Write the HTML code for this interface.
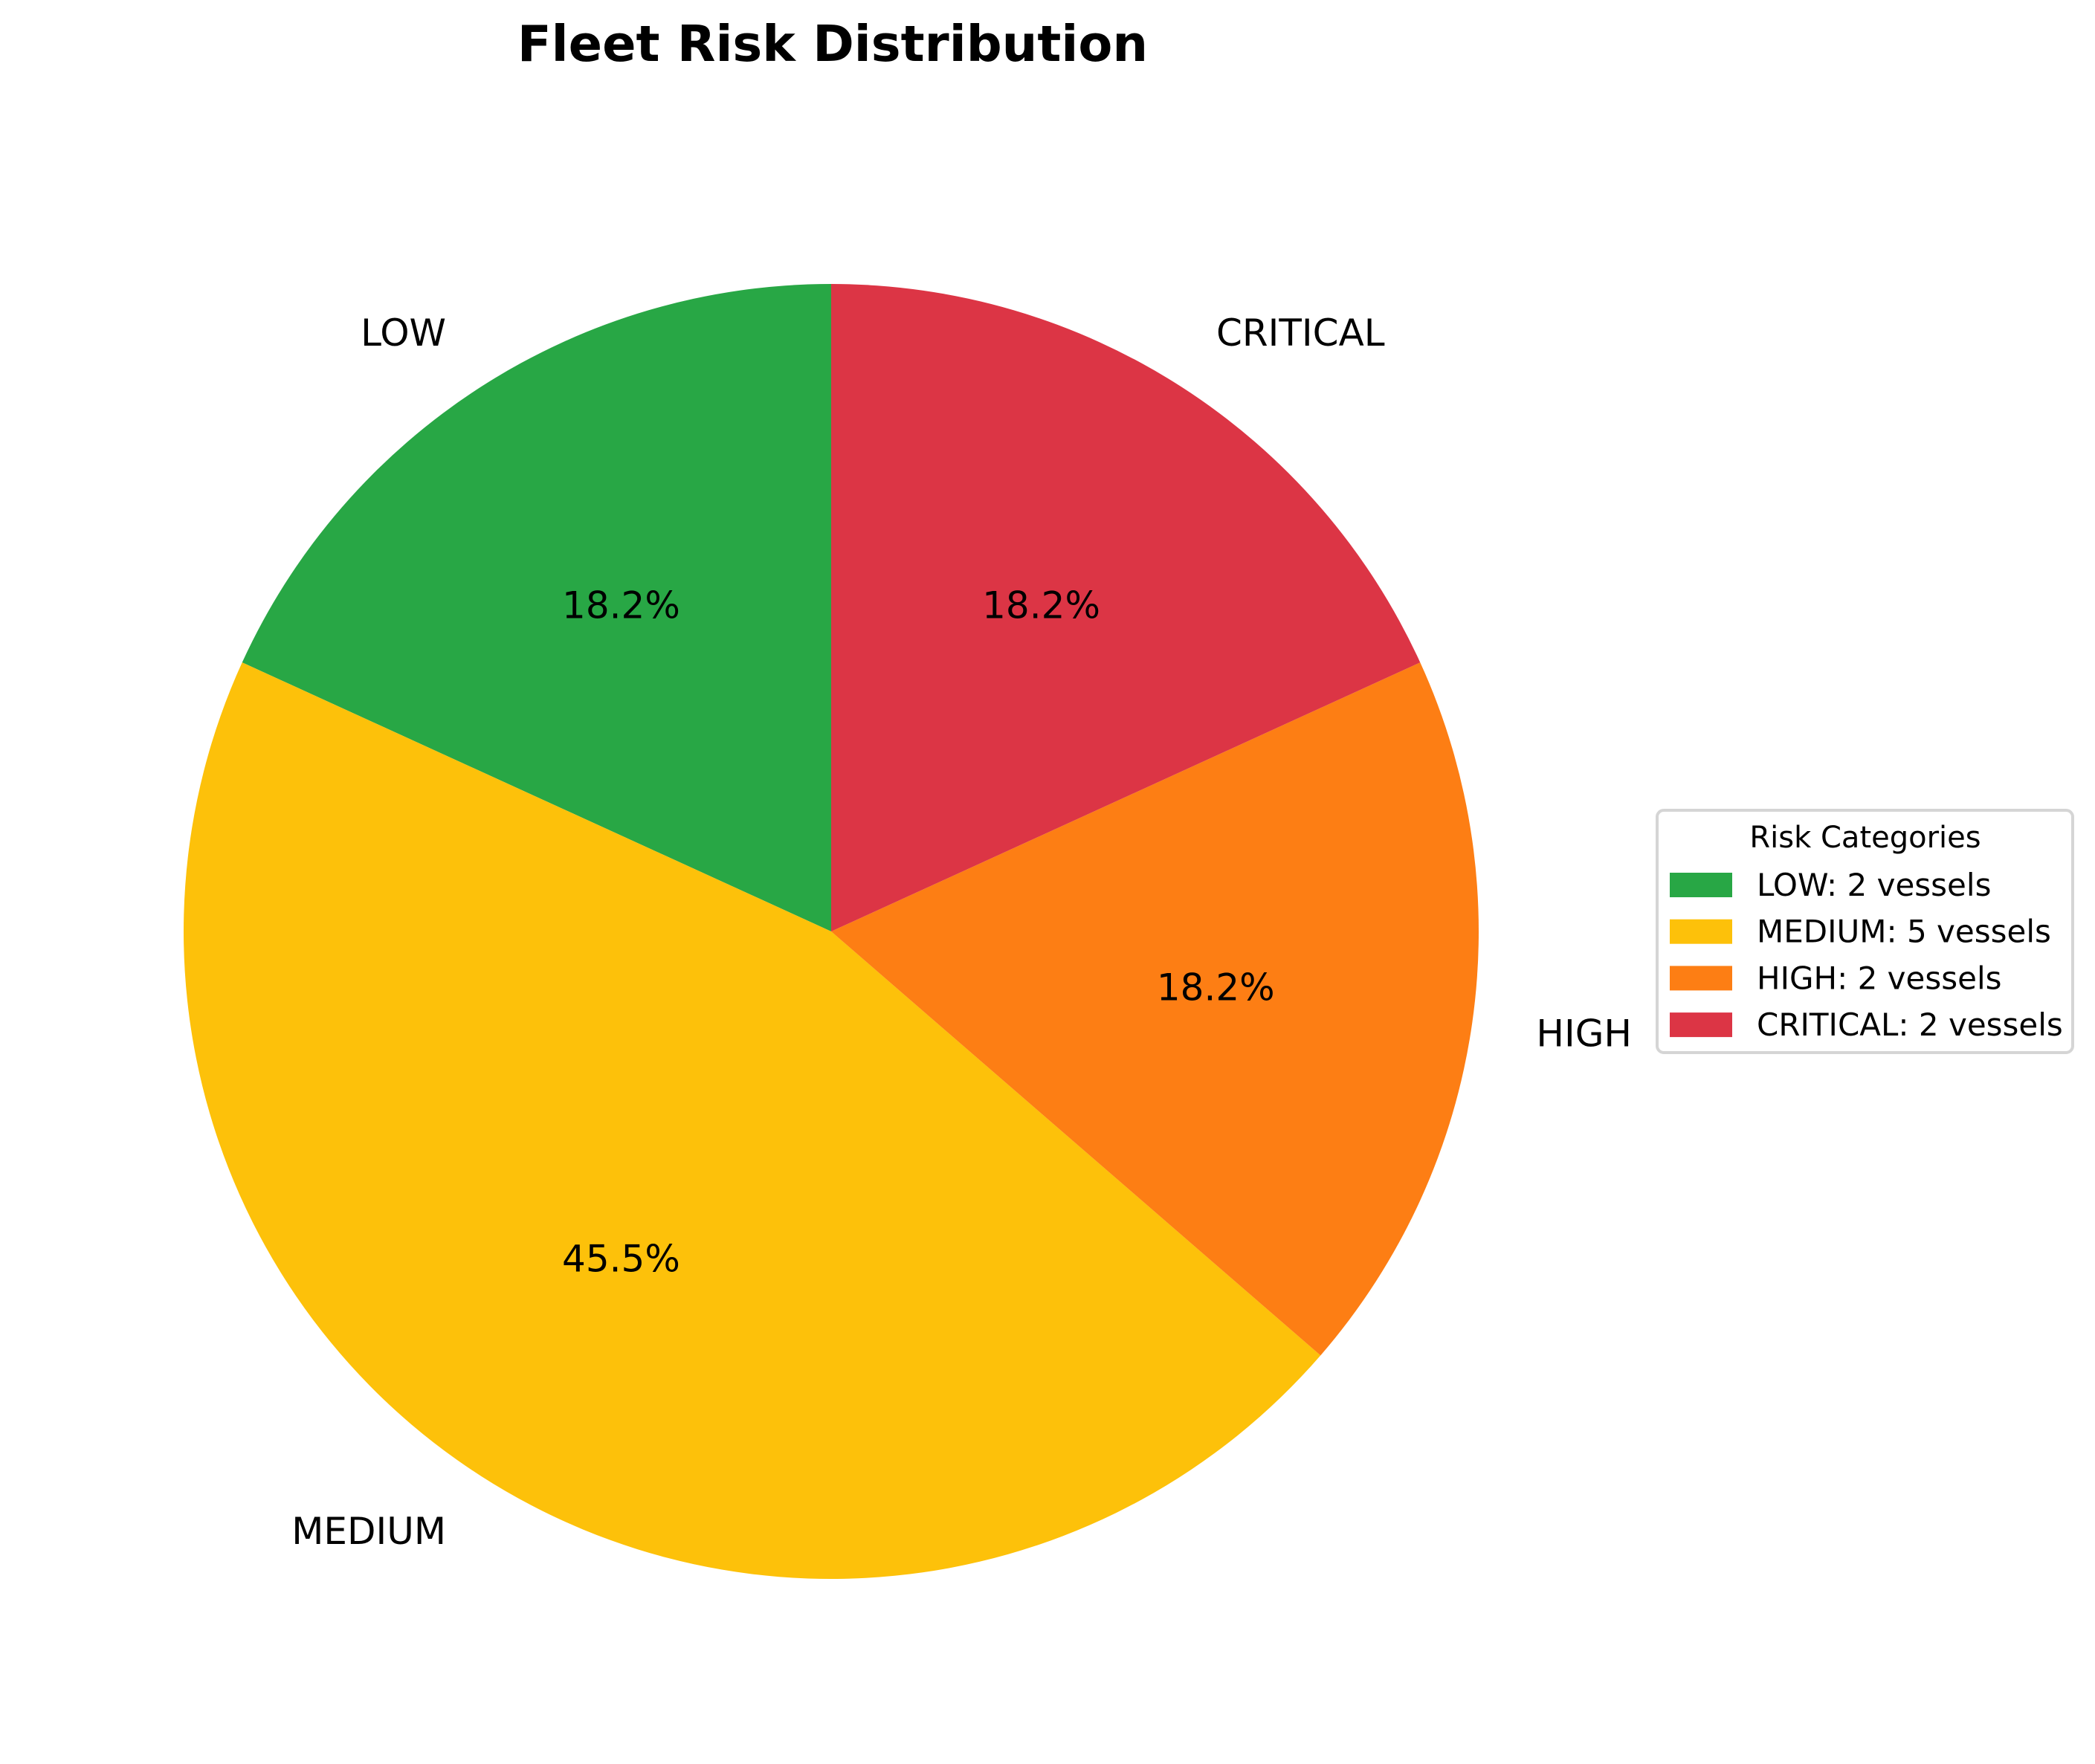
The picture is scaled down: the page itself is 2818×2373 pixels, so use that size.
<!DOCTYPE html>
<html><head><meta charset="utf-8"><style>
html,body{margin:0;padding:0;background:#fff;}
svg{display:block;font-family:"DejaVu Sans","Liberation Sans",sans-serif;}
</style></head><body>
<svg id="chart" width="2818" height="2373" viewBox="0 0 2818 2373">
<text x="1120" y="82" text-anchor="middle" font-size="67" font-weight="bold">Fleet Risk Distribution</text>
<g id="slices"></g>
<g id="labels"></g>
<g id="legend">
<rect x="2229" y="1090" width="559" height="326" rx="9" fill="#fff" stroke="#d5d5d5" stroke-width="4"/>
<text x="2509" y="1140" text-anchor="middle" font-size="40">Risk Categories</text>
</g>
</svg>
<script>
const categories = ["LOW", "MEDIUM", "HIGH", "CRITICAL"];
const counts = [2, 5, 2, 2];
const colors = ["#28a745", "#fdc10a", "#fd7e14", "#dc3545"];

const NS = "http://www.w3.org/2000/svg";
const cx = 1118, cy = 1253, R = 871;
const total = counts.reduce((a, b) => a + b, 0);
const slices = document.getElementById("slices");
const labels = document.getElementById("labels");
const legend = document.getElementById("legend");
function pt(deg, r) { const a = deg * Math.PI / 180; return [cx + r * Math.cos(a), cy - r * Math.sin(a)]; }
let start = 90;
counts.forEach((v, i) => {
  const sweep = v / total * 360;
  const end = start + sweep;
  const [x1, y1] = pt(start, R), [x2, y2] = pt(end, R);
  const large = sweep > 180 ? 1 : 0;
  const p = document.createElementNS(NS, "path");
  p.setAttribute("d", `M${cx},${cy} L${x1},${y1} A${R},${R} 0 ${large} 0 ${x2},${y2} Z`);
  p.setAttribute("fill", colors[i]);
  
  
  slices.appendChild(p);
  const mid = start + sweep / 2;
  const [lx, ly] = pt(mid, R * 1.1);
  const t = document.createElementNS(NS, "text");
  t.setAttribute("x", lx); t.setAttribute("y", ly + 18);
  t.setAttribute("font-size", "50");
  t.setAttribute("text-anchor", Math.cos(mid * Math.PI / 180) >= 0 ? "start" : "end");
  t.textContent = categories[i];
  
  
  labels.appendChild(t);
  const [px, py] = pt(mid, R * 0.6);
  const q = document.createElementNS(NS, "text");
  q.setAttribute("x", px); q.setAttribute("y", py + 18);
  q.setAttribute("font-size", "50");
  q.setAttribute("text-anchor", "middle");
  q.textContent = (v / total * 100).toFixed(1) + "%";
  
  
  labels.appendChild(q);
  const ry = 1190 + i * 62.7;
  const r = document.createElementNS(NS, "rect");
  r.setAttribute("x", 2246); r.setAttribute("y", ry - 16);
  r.setAttribute("width", 84); r.setAttribute("height", 33);
  r.setAttribute("fill", colors[i]);
  
  
  legend.appendChild(r);
  const lt = document.createElementNS(NS, "text");
  lt.setAttribute("x", 2363); lt.setAttribute("y", ry + 15);
  lt.setAttribute("font-size", "42");
  lt.textContent = categories[i] + ": " + v + " vessels";
  
  
  legend.appendChild(lt);
  start = end;
});
</script>
</body></html>
